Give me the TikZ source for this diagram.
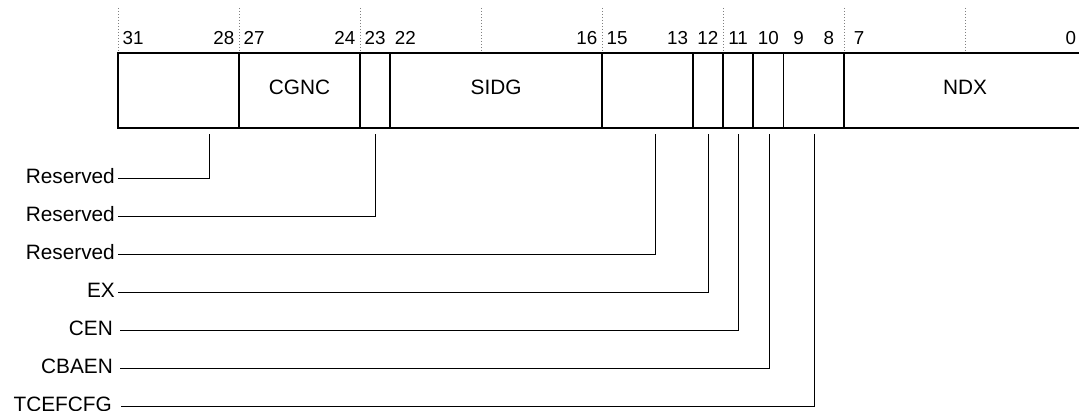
\documentclass[tikz,border=0pt]{standalone}
\usepackage{fontspec}
\setmainfont{Liberation Sans}
\usetikzlibrary{positioning}

\tikzset{
  field/.style={draw, line width=1.6pt, minimum height=75pt, inner sep=0pt,
    text height=14.9pt, text depth=7.6pt, font=\fontsize{20.8}{24}\selectfont},
  bitnum/.style={anchor=base, inner sep=0pt, font=\fontsize{18.8}{22}\selectfont},
  flag/.style={anchor=east, inner sep=0pt, inner xsep=3pt, text height=14.9pt,
    text depth=4pt, font=\fontsize{20.8}{24}\selectfont},
  leader/.style={line width=0.9pt},
  guide/.style={gray, line width=0.6pt, dash pattern=on 1pt off 2pt}
}

\begin{document}
\begin{tikzpicture}[x=1pt, y=-1pt]
      \useasboundingbox (0,0) rectangle (1079,411);
      \clip (0,0) rectangle (1079,411);

      % Guides
      \foreach \k in {0,...,7}
        \draw[guide] ({118+\k*121},8) -- ({118+\k*121},52);

      % Bit numbers
      \foreach \b in {31,28,27,24,23,22,16,15,13,12,11,10,9,8,7,0}
        \node[bitnum] (n\b) at ({118+(31.5-\b)*30.25},45) {\b};

      % Fields
      \foreach \hi/\lo/\nm/\txt in {31/28/f31/, 27/24/f27/CGNC, 23/23/f23/, 22/16/f22/SIDG,
          15/13/f15/, 12/12/f12/, 11/11/f11/, 10/10/f10/, 9/8/f9/, 7/0/f7/NDX}
        \node[field, minimum width={(\hi-\lo+1)*30.25pt}] (\nm)
          at ({118+(31-\hi)*30.25+(\hi-\lo+1)*15.125},90.5) {\txt};

      % Labels
      \node[flag] (rsvd1) at (118,178) {Reserved};
      \node[flag] (rsvd2) at (118,216) {Reserved};
      \node[flag] (rsvd3) at (118,254) {Reserved};
      \node[flag] (ex) at (118,292) {EX};
      \node[flag, inner xsep=5pt] (cen) at (118,330) {CEN};
      \node[flag, inner xsep=5pt] (cbaen) at (118,368) {CBAEN};
      \node[flag, inner xsep=6pt] (tcefcfg) at (118,406) {TCEFCFG};

      % Taps
      \coordinate (t1) at (209,134);
      \coordinate (t2) at (375.3,134);
      \coordinate (t3) at (655,134);
      \coordinate (t4) at (708,134);
      \coordinate (t5) at (738.5,134);
      \coordinate (t6) at (769,134);
      \coordinate (t7) at (814,134);

      % Leaders
      \draw[leader] (rsvd1.east) -| (t1);
      \draw[leader] (rsvd2.east) -| (t2);
      \draw[leader] (rsvd3.east) -| (t3);
      \draw[leader] (ex.east) -| (t4);
      \draw[leader] ([xshift=2pt]cen.east) -| (t5);
      \draw[leader] ([xshift=2pt]cbaen.east) -| (t6);
      \draw[leader] ([xshift=3pt]tcefcfg.east) -| (t7);
\end{tikzpicture}
\end{document}
